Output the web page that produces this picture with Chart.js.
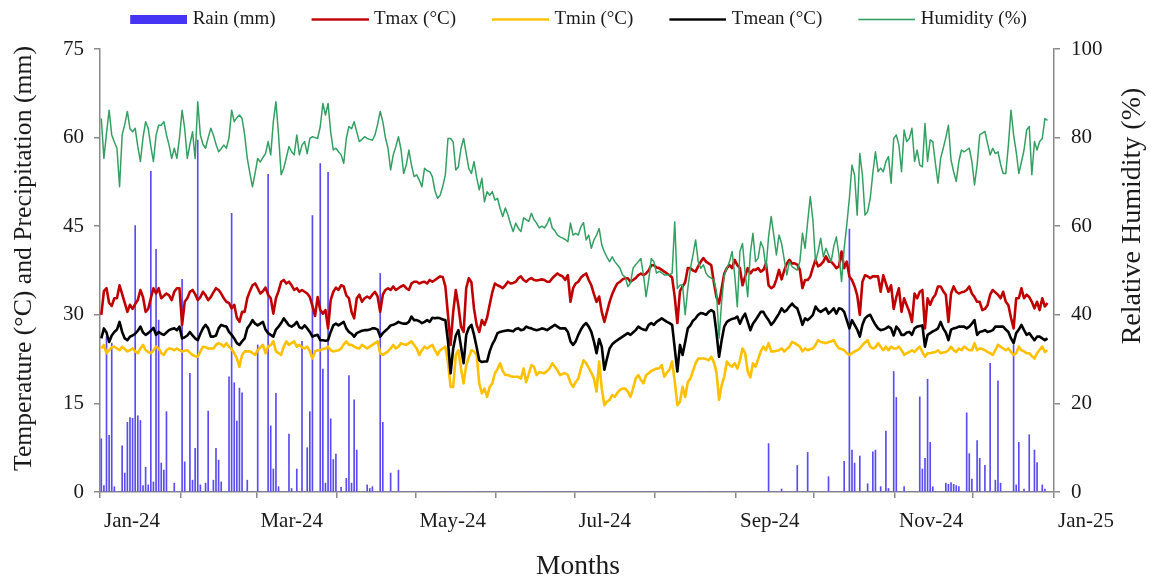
<!DOCTYPE html>
<html>
<head>
<meta charset="utf-8">
<title>Daily weather 2024</title>
<script src="https://cdn.jsdelivr.net/npm/chart.js@4.4.1/dist/chart.umd.min.js"></script>
<style>
  html, body { margin: 0; padding: 0; background: #ffffff; }
  canvas { display: block; }
</style>
</head>
<body>
<canvas id="weather" width="1157" height="577"></canvas>
<script>
// Daily records from 1 Jan to 29 Dec 2024, one row per month.
const rainMm = [
  9.0,1.1,26.3,9.6,25.2,0.9,0,0,7.8,3.2, 11.8,12.6,12.5,45.1,12.9,12.1,1.1,4.2,1.2,54.3, 1.7,41.1,29.1,4.9,3.7,13.6,0,0,1.5,0, 0,
  36.0,5.1,0,20.1,2.0,7.4,59.6,1.2,0,1.5, 13.7,0,2.0,7.4,5.4,1.7,0,0,19.5,47.2, 18.5,12.0,17.6,16.8,0,2.0,0,0,0,
  24.9,0,0,0,53.8,11.2,3.9,16.7,0.9,0, 0,0,9.8,0.6,0,3.9,0,25.5,0,7.5, 13.6,46.8,0,0,55.6,20.8,1.5,54.1,12.4,5.5, 6.4,
  0,0.8,0,2.3,19.7,1.5,15.6,7.1,0,0, 0,1.2,0.6,0.9,0,0,37.0,11.8,0,0, 3.2,0,0,3.7,0,0,0,0,0,0,
  0,0,0,0,0,0,0,0,0,0, 0,0,0,0,0,0,0,0,0,0, 0,0,0,0,0,0,0,0,0,0, 0,
  0,0,0,0,0,0,0,0,0,0, 0,0,0,0,0,0,0,0,0,0, 0,0,0,0,0,0,0,0,0,0,
  0,0,0,0,0,0,0,0,0,0, 0,0,0,0,0,0,0,0,0,0, 0,0,0,0,0,0,0,0,0,0, 0,
  0,0,0,0,0,0,0,0,0,0, 0,0,0,0,0,0,0,0,0,0, 0,0,0,0,0,0,0,0,0,0, 0,
  0,0,0,0,0,0,0,0,0,0, 0,0,8.2,0,0,0,0,0.5,0,0, 0,0,0,4.5,0,0,0,6.7,0,0,
  0,0,0,0,0,2.6,0,0,0,0, 0,5.2,0,44.5,7.1,4.9,0,6.1,0,0, 1.4,0,6.8,7.1,0,0.9,0,10.3,0.6,0, 20.4,
  16.0,0,0,0.9,0,0,0,0,0,16.1, 3.9,5.7,19.1,8.4,0.9,0,0,0,0,1.5, 1.3,1.6,1.3,1.1,0.9,0,0,13.4,6.5,2.2,
  0,8.7,5.7,0,4.5,0,21.8,0,2.0,18.8, 1.5,0,0,0,0,24.9,1.2,8.4,0,0.5, 0,9.7,0,7.1,5.0,0,1.2,0.5,0
];

const tmax = [
  30.0,34.0,34.5,32.0,31.5,32.8,32.8,35.0,33.5,32.0, 30.5,31.7,31.0,31.8,32.5,34.2,33.0,30.5,31.0,32.8, 34.5,33.6,34.5,32.8,33.2,33.6,33.3,32.5,33.9,34.5, 34.5,
  28.3,32.2,32.8,33.9,34.2,33.5,32.5,33.0,33.9,33.3, 32.5,33.0,33.8,34.5,34.2,33.6,32.8,32.2,32.0,31.1, 31.7,29.5,28.8,30.5,30.5,32.8,34.0,35.0,35.3,
  34.5,33.6,34.0,34.6,33.4,32.8,30.2,32.8,34.0,35.6, 35.9,35.3,35.6,35.0,34.2,34.5,33.9,34.2,33.9,33.6, 33.0,31.5,29.8,33.0,30.8,30.2,30.8,27.7,32.5,33.9, 34.6,
  34.2,35.0,34.8,33.3,32.8,30.5,29.4,32.8,33.4,32.2, 32.8,33.1,32.8,33.4,33.9,33.1,30.5,33.4,34.2,34.5, 34.2,34.8,34.2,34.5,34.8,35.0,34.5,34.2,35.3,35.6,
  35.6,35.3,35.5,35.6,35.3,35.9,35.6,35.9,36.2,36.5, 36.4,34.8,30.0,24.9,30.5,34.2,31.5,28.0,27.1,34.5, 36.2,35.5,31.0,28.3,27.1,29.1,28.3,29.5,31.7,33.8, 35.3,
  35.0,34.8,34.5,35.0,35.6,35.3,35.4,35.6,36.2,36.5, 35.9,35.6,36.0,36.2,35.9,35.8,35.9,36.0,35.9,35.6, 35.6,36.2,36.6,37.0,36.7,36.5,35.9,36.7,32.2,34.5,
  35.3,35.6,36.3,36.7,37.0,35.9,35.0,33.5,32.2,33.1, 30.5,28.8,30.5,32.2,33.5,34.5,35.3,35.6,36.0,36.2, 36.2,35.6,35.9,36.2,36.7,37.0,36.7,37.0,37.5,38.4, 38.4,
  38.0,37.9,37.6,37.3,37.0,36.7,36.3,33.0,28.6,34.0, 34.8,35.5,37.9,37.9,37.5,37.3,38.2,39.0,39.6,39.0, 38.7,38.4,35.5,33.0,31.9,34.5,37.0,37.9,38.4,37.9, 39.3,
  38.4,37.9,35.0,36.5,37.9,37.0,37.6,37.6,37.9,37.3, 37.6,38.7,35.0,34.5,34.8,36.0,37.6,36.0,37.5,38.7, 39.3,38.7,38.7,38.5,37.6,34.5,35.9,35.9,36.5,38.0,
  39.3,38.2,38.5,39.0,39.9,39.0,39.0,38.5,37.9,38.2, 40.7,37.9,39.0,36.5,35.9,34.8,33.3,30.0,35.6,36.7, 36.5,36.2,36.5,36.5,36.5,33.9,36.7,35.3,33.9,35.0, 31.0,
  33.0,34.5,30.5,32.8,31.6,30.5,28.8,33.6,32.8,33.9, 34.2,27.7,32.8,31.7,32.8,33.4,34.8,34.8,34.0,33.4, 28.8,33.6,34.8,33.9,33.6,33.8,33.9,34.2,34.8,33.6,
  33.0,32.2,32.2,30.8,31.0,31.6,33.4,34.2,33.8,33.4, 32.8,33.9,32.2,31.6,29.5,27.7,32.8,32.8,34.5,32.8, 33.4,33.0,32.2,31.1,32.2,30.8,32.8,31.4,32.0
];

const tmin = [
  24.3,24.9,23.5,24.0,24.5,24.6,24.3,24.0,24.6,24.2, 23.8,24.0,24.3,23.8,23.5,24.3,24.9,24.0,23.7,23.5, 24.0,24.6,24.3,23.5,23.2,24.0,24.3,24.2,24.0,24.3, 24.0,
  23.8,23.9,24.0,23.6,23.2,23.0,22.9,23.8,24.6,24.5, 24.3,24.3,24.3,24.9,25.2,25.0,24.6,25.2,24.6,24.2, 23.5,22.6,21.2,23.2,23.8,23.8,23.8,23.5,23.2,
  24.0,24.5,24.9,23.5,24.6,24.9,25.5,23.8,23.5,23.2, 24.6,25.5,24.9,25.2,25.5,24.6,24.9,24.5,24.3,24.6, 23.8,22.6,23.8,24.0,24.0,24.2,24.3,24.6,24.0,23.8, 23.9,
  24.0,24.3,25.0,25.5,24.9,24.9,24.6,24.4,24.3,24.9, 24.6,24.3,24.6,24.9,25.2,25.5,23.5,23.2,23.5,23.8, 24.3,24.9,24.3,24.6,25.2,25.0,24.9,25.2,25.5,24.9,
  24.3,23.2,24.0,24.6,24.3,24.6,24.9,24.0,23.2,24.0, 24.3,24.6,22.0,17.8,17.8,23.2,24.0,20.9,18.4,21.5, 22.8,24.0,23.8,23.2,18.4,16.7,17.5,16.1,17.8,18.4, 20.1,
  20.8,21.8,20.5,19.8,19.8,19.6,19.5,19.5,19.5,19.2, 20.9,18.6,20.0,21.5,21.2,19.8,20.3,20.2,20.1,20.5, 20.9,21.8,21.2,20.6,19.8,20.0,20.1,19.8,18.5,17.8,
  18.6,19.2,20.9,22.3,21.8,21.0,20.2,19.2,17.0,22.1, 17.5,14.7,15.3,15.6,16.4,16.1,16.8,17.3,17.5,17.5, 17.0,16.1,17.5,19.2,19.8,19.0,18.4,19.8,20.1,20.5, 20.7,
  20.9,20.9,21.5,19.5,20.2,20.7,22.1,18.7,14.7,15.3, 17.8,16.1,18.6,19.2,20.5,21.8,22.6,22.6,22.6,22.5, 22.3,22.9,22.0,20.3,15.6,18.1,19.5,22.1,21.5,21.2, 21.8,
  20.9,22.3,24.3,23.5,20.4,19.4,21.8,21.2,22.5,23.8, 24.6,24.0,25.2,23.8,23.8,23.9,24.0,24.3,23.8,24.2, 24.6,25.4,25.2,24.9,24.6,23.8,24.3,24.0,24.2,24.3,
  24.9,25.7,25.4,25.3,25.2,25.4,25.5,25.7,24.9,24.3, 24.2,24.0,23.5,23.2,23.5,23.8,24.0,24.3,24.9,25.3, 25.7,24.6,24.3,24.5,25.2,24.6,24.0,24.6,24.0,24.6, 24.3,
  24.3,24.6,24.0,23.2,23.5,23.7,24.0,23.7,24.2,24.6, 23.7,22.9,23.5,23.5,23.6,23.7,24.0,23.5,23.6,23.7, 24.0,24.6,24.0,23.7,24.3,24.0,24.6,24.3,24.0,24.0,
  25.2,24.0,24.3,24.2,24.0,23.7,23.5,23.2,24.0,24.9, 24.6,24.3,24.0,24.3,23.7,23.2,23.5,24.6,24.0,23.8, 23.5,23.5,23.0,22.6,23.5,24.1,24.6,23.7,24.0
];

const tmean = [
  26.0,27.7,27.0,25.4,26.5,27.1,27.5,28.8,27.1,26.0, 25.7,26.3,26.5,26.8,27.3,28.0,27.0,26.6,26.9,27.3, 27.8,26.6,27.1,26.8,26.6,27.0,27.4,27.6,27.7,27.4, 28.0,
  26.0,26.2,26.5,27.1,26.5,26.0,25.7,26.8,27.7,28.3, 27.7,26.3,26.3,26.5,27.7,28.3,28.1,28.0,27.1,26.6, 26.0,25.2,24.9,25.5,26.0,27.7,28.3,29.1,28.5,
  28.2,28.5,28.8,27.5,26.9,26.6,26.3,27.5,28.0,28.6, 29.4,28.8,28.2,28.0,28.3,28.8,27.9,27.7,28.2,27.7, 27.1,26.3,26.5,26.6,25.7,25.7,25.6,25.7,27.1,28.2, 28.5,
  28.2,28.5,28.8,27.7,27.1,26.8,26.3,26.9,27.1,27.3, 27.4,27.4,27.5,27.7,27.7,27.5,26.3,26.9,27.3,27.7, 28.2,28.3,28.5,28.8,28.6,28.5,28.5,28.8,29.7,29.1,
  29.1,28.9,28.6,28.8,29.1,28.8,29.5,29.4,29.5,29.4, 29.2,29.1,25.5,20.1,24.3,26.5,27.4,24.6,21.8,26.6, 27.8,28.3,26.6,24.5,22.3,22.0,22.1,22.1,23.8,25.0, 25.8,
  26.9,27.1,27.2,27.3,27.4,27.3,27.2,27.6,27.7,27.4, 27.5,28.0,27.8,27.7,27.5,27.4,27.5,27.7,27.6,27.4, 27.7,28.0,28.3,28.0,27.7,27.7,27.7,27.1,25.5,24.9,
  25.5,26.6,27.5,28.2,28.6,28.0,27.1,25.5,23.5,25.9, 24.6,20.7,22.6,24.3,25.0,25.4,25.7,26.0,26.3,26.6, 26.9,26.6,27.0,27.4,28.0,27.7,27.5,27.4,28.3,28.6, 28.3,
  28.8,29.1,29.4,29.1,28.8,28.6,28.3,24.3,20.4,24.9, 23.2,25.4,27.7,28.2,29.0,29.4,30.0,30.3,30.2,30.0, 30.5,30.8,30.5,27.0,22.9,25.7,28.0,28.8,29.1,29.3, 29.4,
  29.7,28.5,29.5,30.2,28.8,27.4,28.5,29.1,29.8,30.5, 30.5,29.7,29.1,28.3,28.8,29.5,30.2,31.1,30.5,30.8, 31.4,31.9,31.4,31.1,29.8,28.3,29.4,29.1,29.5,30.0,
  31.4,30.8,30.5,30.8,31.1,30.2,30.6,31.1,30.2,31.1, 31.0,30.5,29.1,27.7,29.1,28.3,27.5,26.3,28.3,29.4, 29.8,30.0,29.1,28.3,27.7,27.4,27.5,27.7,28.0,27.7, 26.5,
  28.0,27.5,26.6,26.6,27.0,27.1,26.6,27.7,28.0,28.1, 28.2,24.6,26.6,26.9,27.2,27.4,27.7,28.8,27.7,27.0, 25.7,27.5,27.7,27.8,28.0,28.0,28.0,27.7,28.0,28.5,
  29.1,26.6,27.1,27.2,27.4,27.1,27.2,27.4,28.0,28.0, 28.0,28.0,27.5,27.1,26.0,25.2,26.9,27.5,28.3,27.4, 26.6,26.9,26.3,25.7,26.3,26.3,26.0,25.7,26.0
];

const humidity = [
  84.3,75.3,81.0,86.2,80.6,79.0,77.6,68.9,80.6,83.0, 85.9,82.0,81.3,82.1,78.0,74.6,80.0,83.6,82.1,78.0, 74.6,80.5,82.8,82.8,83.6,80.6,78.3,75.3,77.6,75.3, 80.0,
  86.2,82.0,75.3,78.5,81.3,75.3,88.1,80.6,78.5,77.6, 80.0,82.1,80.6,78.5,76.8,77.5,78.3,77.6,80.0,86.2, 83.6,84.5,85.1,84.3,80.6,75.3,72.0,68.9,72.0,
  75.3,74.5,75.5,76.4,79.1,76.1,83.6,88.1,80.6,71.6, 73.1,75.5,78.0,76.8,76.1,80.6,76.1,78.3,79.1,76.4, 79.8,80.2,80.0,79.8,82.5,87.7,85.1,87.7,81.3,77.2, 77.6,
  76.8,76.1,74.2,79.8,82.5,82.0,83.6,81.3,79.1,79.6, 80.2,79.8,79.6,79.4,80.6,83.0,85.9,83.6,80.0,77.6, 72.7,76.1,78.0,80.2,77.2,71.9,73.8,77.2,73.8,71.2,
  71.6,70.4,68.9,73.1,72.5,72.3,71.2,68.0,66.3,67.0, 69.0,71.6,79.8,79.8,79.0,72.7,73.4,77.6,79.8,76.4, 73.0,71.9,74.6,71.0,68.2,70.8,65.5,67.8,67.0,67.8, 65.9,
  66.3,64.0,62.2,64.1,62.6,60.5,58.8,60.7,59.5,58.8, 61.9,61.5,61.1,62.9,61.5,60.7,59.6,60.0,59.6,60.5, 61.9,59.6,59.0,58.0,57.6,57.3,57.0,56.5,60.7,58.0,
  58.4,58.0,59.9,60.8,56.9,58.0,55.0,56.9,58.0,59.5, 55.8,54.2,53.0,52.0,53.1,52.0,51.3,50.5,49.0,48.5, 46.4,47.1,50.5,51.3,52.0,52.7,49.0,44.1,47.9,52.7, 52.0,
  49.4,49.8,49.5,49.0,49.0,49.0,49.4,61.0,45.9,46.7, 46.7,40.0,45.9,50.5,53.5,56.9,52.0,50.5,51.3,49.4, 48.6,48.3,47.9,45.2,34.7,43.0,49.0,50.5,52.0,54.3, 49.0,
  41.8,54.3,56.1,49.4,44.1,53.9,58.4,52.0,52.8,56.5, 55.0,50.5,57.6,62.2,58.0,53.5,58.0,56.1,52.5,49.0, 52.0,50.9,50.5,50.1,52.0,58.4,55.0,61.0,66.7,61.4,
  52.0,54.3,57.3,53.1,55.0,53.5,52.0,55.4,57.6,53.5, 47.5,55.0,60.3,66.3,73.8,71.5,62.5,76.4,71.5,62.5, 63.3,66.3,72.0,76.8,72.3,73.1,72.3,74.6,75.7,69.7, 79.8,
  80.6,78.3,72.3,81.7,79.1,79.8,82.1,74.6,77.2,73.8, 73.4,83.2,74.6,79.5,79.1,74.2,69.7,75.3,77.6,80.0, 82.8,74.9,72.3,70.1,74.6,77.2,76.8,77.2,77.6,74.6,
  69.3,73.8,80.6,81.0,81.4,78.7,76.1,77.6,76.4,76.8, 74.0,71.9,71.9,78.3,86.2,80.6,76.8,71.9,74.5,77.2, 81.7,82.5,71.6,79.1,77.2,79.1,79.8,84.3,83.9
];

// Day offsets of the first of each month (2024 is a leap year) and their labels.
const monthStarts = [0, 31, 60, 91, 121, 152, 182, 213, 244, 274, 305, 335, 366];
const monthLabels = ['Jan-24', '', 'Mar-24', '', 'May-24', '', 'Jul-24', '', 'Sep-24', '', 'Nov-24', '', 'Jan-25'];

const seriesNames = ['Rain (mm)', 'Tmax (°C)', 'Tmin (°C)', 'Tmean (°C)', 'Humidity (%)'];
const titles = {
  left: 'Temperature (°C) and Precipitation (mm)',
  right: 'Relative Humidity (%)',
  bottom: 'Months'
};

// ---- styling ----
const SERIF = "'Liberation Serif', 'Times New Roman', serif";
const TEXT = '#1a1a1a';
const AXIS = '#8a8a8a';
const colors = { rain: '#4634f5', rainBar: '#5a4cf2', tmax: '#c00000', tmin: '#ffc000', tmean: '#000000', hum: '#33a062' };

// Each day is plotted in the middle of its slot on the day axis.
const toPoints = arr => arr.map((v, i) => ({ x: i + 0.5, y: v }));

// Legend symbols: a transparent lead-in keeps the gaps between entries.
function legendMark(color, h, fillH) {
  const c = document.createElement('canvas');
  c.width = 87; c.height = h;
  const g = c.getContext('2d');
  g.fillStyle = color;
  g.fillRect(30, (h - fillH) / 2, 57, fillH);
  return c;
}
const legendMarks = [
  legendMark(colors.rain, 9, 9),
  legendMark(colors.tmax, 3, 2.4),
  legendMark(colors.tmin, 3, 2.4),
  legendMark(colors.tmean, 3, 2.4),
  legendMark(colors.hum, 3, 1.6)
];

// Extra room below the legend row.
const legendSpacing = {
  id: 'legendSpacing',
  beforeLayout(chart) {
    const lg = chart.legend;
    if (lg && !lg.__spaced) {
      const fit = lg.fit;
      lg.fit = function () { fit.call(this); this.height = 49; };
      lg.__spaced = true;
    }
  }
};

// Axis titles, both vertical ones read bottom to top.
const axisTitles = {
  id: 'axisTitles',
  afterDraw(chart) {
    const { ctx, chartArea } = chart;
    ctx.save();
    ctx.fillStyle = TEXT;
    ctx.textAlign = 'center';
    ctx.textBaseline = 'middle';

    ctx.font = `25.7px ${SERIF}`;
    ctx.save();
    ctx.translate(24, (chartArea.top + chartArea.bottom) / 2 - 12);
    ctx.rotate(-Math.PI / 2);
    ctx.fillText(titles.left, 0, 0);
    ctx.restore();

    ctx.font = `28px ${SERIF}`;
    ctx.save();
    ctx.translate(1133, 216);
    ctx.rotate(-Math.PI / 2);
    ctx.fillText(titles.right, 0, 0);
    ctx.restore();

    ctx.font = `27.5px ${SERIF}`;
    ctx.fillText(titles.bottom, 578, 567);
    ctx.restore();
  }
};

const lineBase = {
  type: 'line',
  pointRadius: 0,
  pointHoverRadius: 0,
  tension: 0,
  borderJoinStyle: 'round',
  fill: false
};

const axisGrid = {
  display: true,
  drawOnChartArea: false,
  drawTicks: true,
  tickLength: 6,
  color: AXIS,
  lineWidth: 1.5
};
const axisBorder = { display: true, color: AXIS, width: 1.5 };
const tickFont = { family: SERIF, size: 21 };

Chart.defaults.color = TEXT;

new Chart(document.getElementById('weather'), {
  type: 'line',
  data: {
    datasets: [
      {
        type: 'bar', label: seriesNames[0], data: toPoints(rainMm), yAxisID: 'y',
        backgroundColor: colors.rainBar, borderWidth: 0, barThickness: 1, order: 5
      },
      { ...lineBase, label: seriesNames[1], data: toPoints(tmax), yAxisID: 'y', borderColor: colors.tmax, backgroundColor: colors.tmax, borderWidth: 2.6, order: 4 },
      { ...lineBase, label: seriesNames[2], data: toPoints(tmin), yAxisID: 'y', borderColor: colors.tmin, backgroundColor: colors.tmin, borderWidth: 2.6, order: 3 },
      { ...lineBase, label: seriesNames[3], data: toPoints(tmean), yAxisID: 'y', borderColor: colors.tmean, backgroundColor: colors.tmean, borderWidth: 2.6, order: 2 },
      { ...lineBase, label: seriesNames[4], data: toPoints(humidity), yAxisID: 'y1', borderColor: colors.hum, backgroundColor: colors.hum, borderWidth: 1.5, order: 1 }
    ]
  },
  options: {
    responsive: false,
    animation: false,
    devicePixelRatio: 1,
    events: [],
    layout: { padding: { top: 0, right: 26, bottom: 0, left: 0 } },
    plugins: {
      tooltip: { enabled: false },
      legend: {
        position: 'top',
        labels: {
          usePointStyle: true,
          pointStyleWidth: 79,
          padding: 10,
          color: TEXT,
          font: { family: SERIF, size: 19 },
          sort: (a, b) => a.datasetIndex - b.datasetIndex,
          generateLabels(chart) {
            const items = Chart.defaults.plugins.legend.labels.generateLabels(chart);
            items.forEach(it => { it.pointStyle = legendMarks[it.datasetIndex]; it.lineWidth = 0; });
            return items;
          }
        }
      }
    },
    scales: {
      x: {
        type: 'linear',
        min: 0,
        max: 366,
        offset: false,
        afterBuildTicks(scale) { scale.ticks = monthStarts.map(v => ({ value: v })); },
        afterFit(scale) { scale.height = 85; },
        ticks: {
          autoSkip: false,
          maxRotation: 0,
          minRotation: 0,
          align: 'start',
          labelOffset: 4,
          padding: 11,
          font: tickFont,
          color: TEXT,
          callback: (value, index) => monthLabels[index]
        },
        grid: { ...axisGrid, offset: false },
        border: axisBorder
      },
      y: {
        position: 'left',
        min: 0,
        max: 75,
        afterFit(scale) { scale.width = 100; },
        ticks: { stepSize: 15, padding: 10, font: tickFont, color: TEXT },
        grid: axisGrid,
        border: axisBorder
      },
      y1: {
        position: 'right',
        min: 0,
        max: 100,
        afterFit(scale) { scale.width = 77; },
        ticks: { stepSize: 20, padding: 11, font: tickFont, color: TEXT },
        grid: axisGrid,
        border: axisBorder
      }
    }
  },
  plugins: [legendSpacing, axisTitles]
});
</script>
</body>
</html>
